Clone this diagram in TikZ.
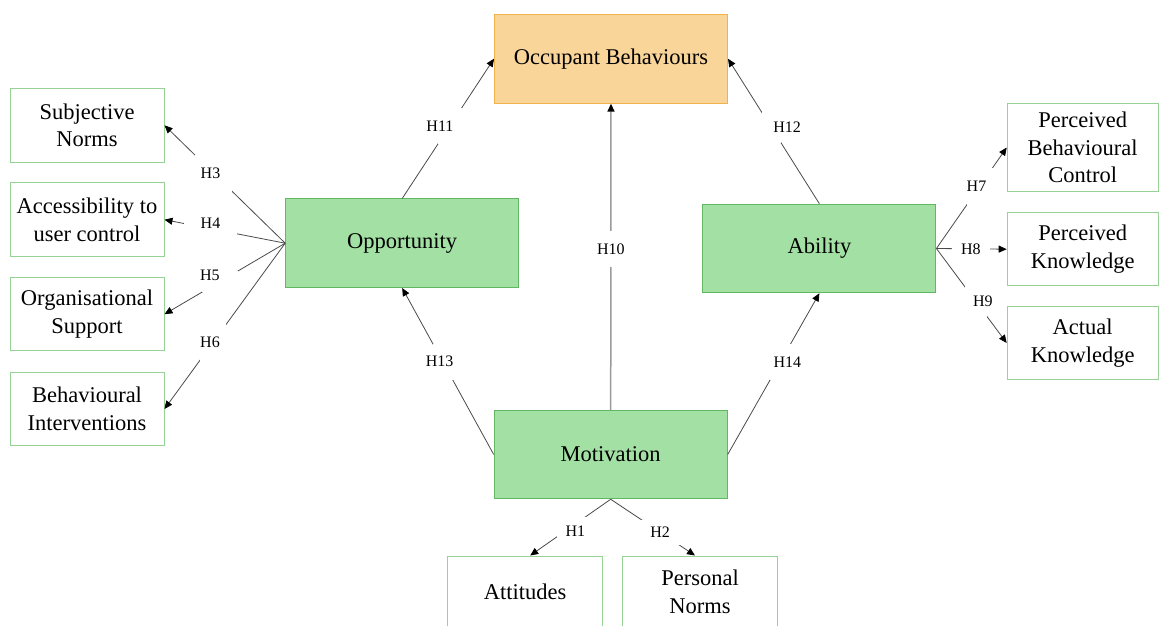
\documentclass[tikz,border=0pt]{standalone}
\usepackage{fontspec}
\setmainfont{Liberation Serif}
\usetikzlibrary{arrows.meta}

\definecolor{coregreen}{HTML}{A3E0A3}
\definecolor{coreedge}{HTML}{62B862}
\definecolor{leafedge}{HTML}{96D296}
\definecolor{outfill}{HTML}{FAD59A}
\definecolor{outedge}{HTML}{F0B24A}
\definecolor{wire}{HTML}{4A4A4A}
\definecolor{mainwire}{HTML}{9A9A9A}

\tikzset{
  box/.style={draw, line width=1pt, align=center, inner sep=0pt, text=black,
    font=\fontsize{22.5}{27.5}\selectfont},
  core/.style={box, fill=coregreen, draw=coreedge, minimum width=233pt, minimum height=88.5pt},
  leaf/.style={box, fill=white, draw=leafedge, minimum width=154pt, minimum height=73.5pt},
  outcome/.style={box, fill=outfill, draw=outedge, minimum width=233pt, minimum height=89pt},
  link/.style={draw=wire, line width=0.8pt, -{Triangle[length=8pt,width=7pt,color=black]}},
  mainlink/.style={link, draw=mainwire, line width=1.5pt},
  cut/.style 2 args={fill=white, inner sep=0pt, minimum width=#1, minimum height=#2},
  hyp/.style={font=\fontsize{16}{16}\selectfont, inner sep=0pt, text=black},
}

\begin{document}
\begin{tikzpicture}[x=1pt, y=-1pt]
\useasboundingbox (0,0) rectangle (1159,626);
\clip (0,0) rectangle (1159,626);

% central constructs
\node[outcome] (occ) at (611,58.7) {Occupant Behaviours};
\node[core] (opp) at (402.2,243.2) {Opportunity};
\node[core] (abi) at (819.4,248.5) {Ability};
\node[core] (mot) at (610.7,454.5) {Motivation};

% opportunity factors
\node[leaf] (sn)  at (87,125.3) {Subjective\\Norms};
\node[leaf] (acc) at (87,219.7) {Accessibility to\\user control};
\node[leaf] (org) at (87,314.2) {Organisational\\Support};
\node[leaf] (bi)  at (87,409)   {Behavioural\\Interventions};

% ability factors
\node[leaf, minimum width=151pt, minimum height=88.4pt] (pbc) at (1082.7,147.5) {Perceived\\Behavioural\\Control};
\node[leaf, minimum width=151pt] (pk) at (1082.7,249.2) {Perceived\\Knowledge};
\node[leaf, minimum width=151pt] (ak) at (1082.7,343)   {Actual\\Knowledge};

% motivation factors
\node[leaf, minimum width=155pt, minimum height=72pt] (att) at (525.2,592) {Attitudes};
\node[leaf, minimum width=155pt, minimum height=72pt] (pn)  at (700,592)   {Personal\\Norms};

% paths to behaviour
\draw[link] (opp.north) -- node[cut={24pt}{36pt}, pos=.52] (c11) {} node[hyp, pos=.52, xshift=-10pt] (h11) {H11} (occ.west);
\draw[link] (abi.north) -- node[cut={19pt}{31pt}, pos=.528] (c12) {} node[hyp, pos=.528, xshift=16pt] (h12) {H12} (occ.east);
\draw[mainlink] (mot.north) -- node[cut={8pt}{36pt}, pos=.525] (c10) {} node[hyp, pos=.525] (h10) {H10} (occ.south);
\draw[link] (mot.west) -- node[cut={20pt}{36pt}, pos=.558] (c13) {} node[hyp, pos=.558, xshift=-3pt] (h13) {H13} (opp.south);
\draw[link] (mot.east) -- node[cut={21pt}{36pt}, pos=.575] (c14) {} node[hyp, pos=.575, xshift=7pt] (h14) {H14} (abi.south);

% opportunity hypotheses
\draw[link] (opp.west) -- node[cut={37pt}{37pt}, pos=.594] (c3) {} node[hyp, pos=.594, xshift=-3pt] (h3) {H3} (sn.east);
\draw[link] (opp.west) -- node[cut={53pt}{12pt}, pos=.619] (c4) {} node[hyp, pos=.619, yshift=5pt] (h4) {H4} (acc.east);
\draw[link] (opp.west) -- node[cut={36pt}{21pt}, pos=.541] (c5) {} node[hyp, pos=.541, xshift=-10pt, yshift=6.5pt] (h5) {H5} (org.east);
\draw[link] (opp.west) -- node[cut={26pt}{37pt}, pos=.598] (c6) {} node[hyp, pos=.598, xshift=-3pt] (h6) {H6} (bi.east);

% ability hypotheses
\draw[link] (abi.east) -- node[cut={26pt}{37pt}, pos=.613] (c7) {} node[hyp, pos=.613, xshift=-3pt] (h7) {H7} (pbc.west);
\draw[link] (abi.east) -- node[cut={38pt}{10pt}, pos=.49] (c8) {} node[hyp, pos=.49] (h8) {H8} (pk.west);
\draw[link] (abi.east) -- node[cut={22pt}{31pt}, pos=.561] (c9) {} node[hyp, pos=.561, xshift=7pt] (h9) {H9} (ak.west);

% motivation hypotheses
\draw[link] (mot.south) -- node[cut={29pt}{20pt}, pos=.488] (c1) {} node[hyp, pos=.488, xshift=4pt, yshift=-5pt] (h1) {H1} ([xshift=5pt]att.north);
\draw[link] (mot.south) -- node[cut={39pt}{25pt}, pos=.586] (c2) {} node[hyp, pos=.586] (h2) {H2} ([xshift=-5pt]pn.north);
\end{tikzpicture}
\end{document}
